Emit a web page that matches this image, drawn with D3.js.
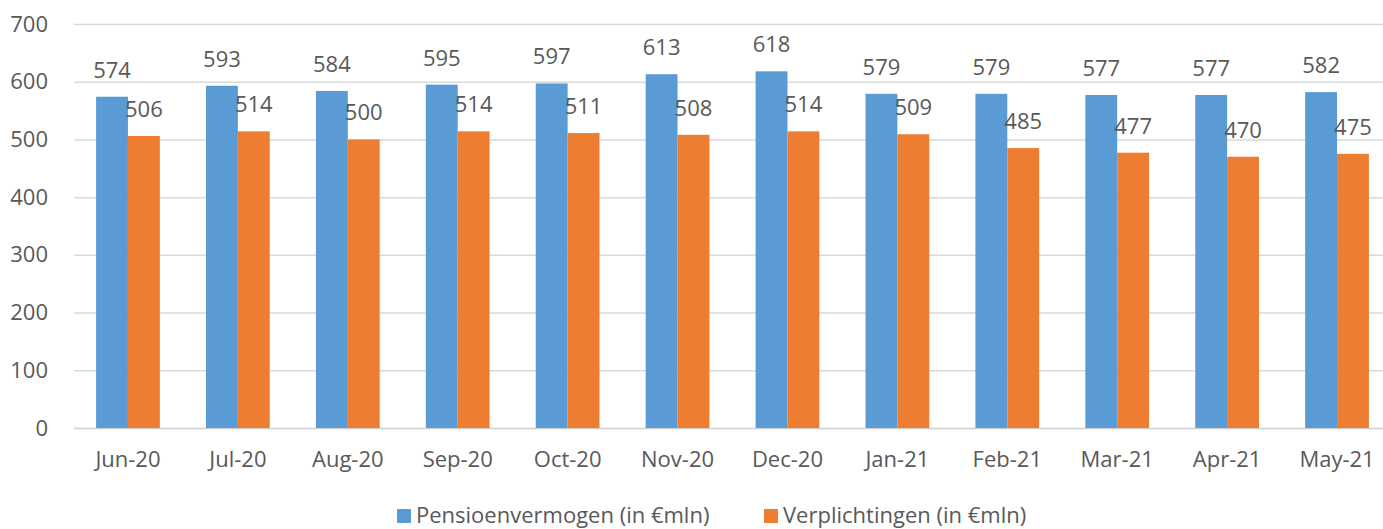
<!DOCTYPE html>
<html>
<head>
<meta charset="utf-8">
<script src="https://cdn.jsdelivr.net/npm/d3@7"></script>
<style>
  body { margin: 0; background: #fff; }
  text { font-family: "Open Sans", sans-serif; fill: #595959; }
</style>
</head>
<body>
<div id="chart"></div>
<script>
// Data
const months = ['Jun-20', 'Jul-20', 'Aug-20', 'Sep-20', 'Oct-20', 'Nov-20',
  'Dec-20', 'Jan-21', 'Feb-21', 'Mar-21', 'Apr-21', 'May-21'];
const pensioenvermogen = [574, 593, 584, 595, 597, 613, 618, 579, 579, 577, 577, 582];
const verplichtingen = [506, 514, 500, 514, 511, 508, 514, 509, 485, 477, 470, 475];
const yTicks = [0, 100, 200, 300, 400, 500, 600, 700];
const seriesNames = ['Pensioenvermogen (in €mln)', 'Verplichtingen (in €mln)'];
const colors = ['#5b9bd5', '#ed7d31'];

const width = 1383;
const height = 529;
const fontSize = 22;

const svg = d3.select('#chart')
  .append('svg')
    .attr('width', width)
    .attr('height', height);

// Scales (plot runs slightly past the right edge, like the cropped original)
const x = d3.scaleBand()
  .domain(months)
  .range([73, 1392])
  .paddingInner(0.42)
  .paddingOuter(0.21);

const xSub = d3.scaleBand()
  .domain([0, 1])
  .range([0, x.bandwidth()]);

const y = d3.scaleLinear()
  .domain([0, 700])
  .range([428, 24]);

// Gridlines
svg.append('g')
  .selectAll('line')
  .data(yTicks)
  .join('line')
    .attr('x1', 74)
    .attr('x2', width)
    .attr('y1', (d) => y(d) + 0.5)
    .attr('y2', (d) => y(d) + 0.5)
    .attr('stroke', (d) => d === 0 ? '#cfcfcf' : '#d9d9d9')
    .attr('stroke-width', 1.5);

// Y axis labels
const yAxis = svg.append('g')
  .attr('transform', 'translate(48,0)')
  .call(d3.axisLeft(y).tickValues(yTicks).tickSize(0).tickPadding(0));
yAxis.select('.domain').remove();
yAxis.selectAll('text')
  .attr('font-size', fontSize)
  .attr('font-family', '"Open Sans", sans-serif')
  .attr('fill', '#595959');

// X axis labels
const xAxis = svg.append('g')
  .attr('transform', 'translate(0,451)')
  .call(d3.axisBottom(x).tickSize(0).tickPadding(0));
xAxis.select('.domain').remove();
xAxis.selectAll('text')
  .attr('font-size', fontSize)
  .attr('font-family', '"Open Sans", sans-serif')
  .attr('fill', '#595959');

// Bars
const series = [pensioenvermogen, verplichtingen];
series.forEach((values, s) => {
  const g = svg.append('g');
  g.selectAll('rect')
    .data(values)
    .join('rect')
      .attr('x', (d, i) => x(months[i]) + xSub(s))
      .attr('y', (d) => y(d))
      .attr('width', xSub.bandwidth())
      .attr('height', (d) => y(0) - y(d))
      .attr('fill', colors[s]);

  g.selectAll('text')
    .data(values)
    .join('text')
      .attr('x', (d, i) => x(months[i]) + xSub(s) + xSub.bandwidth() / 2)
      .attr('y', (d) => y(d) - 19)
      .attr('text-anchor', 'middle')
      .attr('font-size', fontSize)
      .text((d) => d);
});

// Legend
const legendItems = [
  { name: seriesNames[0], color: colors[0], x: 397 },
  { name: seriesNames[1], color: colors[1], x: 764 }
];
const legend = svg.append('g');
legendItems.forEach((item) => {
  legend.append('rect')
    .attr('x', item.x)
    .attr('y', 509)
    .attr('width', 14)
    .attr('height', 14)
    .attr('fill', item.color);
  legend.append('text')
    .attr('x', item.x + 19)
    .attr('y', 523)
    .attr('font-size', fontSize)
    .text(item.name);
});
</script>
</body>
</html>
